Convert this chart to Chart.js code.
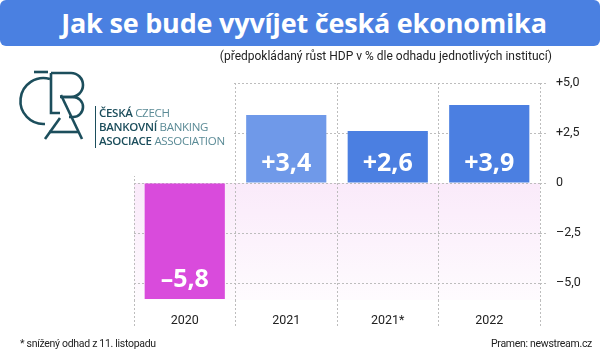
<!DOCTYPE html>
<html>
<head>
<meta charset="utf-8">
<script src="https://cdn.jsdelivr.net/npm/chart.js@4.4.0/dist/chart.umd.min.js"></script>
<style>
  body { margin:0; background:#fff; }
  #wrap { position:relative; width:600px; height:360px; overflow:hidden; font-family:Roboto, sans-serif; color:#222; }
  #chart { position:absolute; left:0; top:0; }
  .title { position:absolute; left:0; top:0; width:600px; height:46px; background:#4a80e1; border-radius:6px;
           color:#fff; font:bold 27px "Open Sans", sans-serif; line-height:45px; text-align:center; text-indent:8px; letter-spacing:-0.2px; }
  .sub { position:absolute; right:48px; top:49px; font-size:12px; }
  .foot { position:absolute; top:337px; font-size:10.5px; letter-spacing:-0.3px; }
  .logotext { position:absolute; left:95px; top:106px; border-left:1px solid #1c4e5c; padding-left:3px;
              font:11.5px "Open Sans", sans-serif; line-height:14px; color:#1c4e5c; letter-spacing:-0.3px; }
  .logotext b { font-weight:600; }
  .logotext span { color:#5b8b96; }
  #logo { position:absolute; left:0; top:60px; }
</style>
</head>
<body>
<div id="wrap">
  <canvas id="chart" width="600" height="360"></canvas>
  <div class="title">Jak se bude vyvíjet česká ekonomika</div>
  <div class="sub">(předpokládaný růst HDP v % dle odhadu jednotlivých institucí)</div>
  <svg id="logo" width="100" height="90" viewBox="0 60 100 90" fill="none" stroke="#1c4e5c" stroke-width="2.6">
    <path d="M34 72 H48"/>
    <path d="M50 79 A23 23 0 1 0 45 124"/>
    <path d="M51 73 V113 H60"/>
    <path d="M51 73 H71 A12 12 0 0 1 71 97 H60"/>
    <path d="M63 97 H73 A10 10 0 0 1 73 117 H69"/>
    <path d="M61 95 L82 139"/>
    <path d="M60 118 L45 139"/>
    <path d="M49 132 H78"/>
  </svg>
  <div class="logotext">
    <div><b>ČESKÁ</b> <span>CZECH</span></div>
    <div><b>BANKOVNÍ</b> <span>BANKING</span></div>
    <div><b>ASOCIACE</b> <span>ASSOCIATION</span></div>
  </div>
  <div class="foot" style="left:20px">* snížený odhad z 11. listopadu</div>
  <div class="foot" style="right:8px">Pramen: newstream.cz</div>
</div>
<script>
const years = ['2020', '2021', '2021*', '2022'];
const growth = [-5.8, 3.4, 2.6, 3.9];
const barColors = ['#d94bdc', '#6f99e9', '#4b7fe1', '#4b7fe1'];
const yTicks = [-5, -2.5, 0, 2.5, 5];
const yTickLabels = ['–5,0', '–2,5', '0', '+2,5', '+5,0'];

function fmt(v) {
  return (v > 0 ? '+' : '–') + Math.abs(v).toFixed(1).replace('.', ',');
}

const backdrop = {
  id: 'backdrop',
  beforeDraw(chart) {
    const {ctx, chartArea: a, scales: {y}} = chart;
    const z = y.getPixelForValue(0);
    const g = ctx.createLinearGradient(0, z, 0, a.bottom);
    g.addColorStop(0, '#faeafa');
    g.addColorStop(1, '#fefbfe');
    ctx.save();
    ctx.fillStyle = g;
    ctx.fillRect(a.left, z, a.right - a.left, a.bottom - z);
    ctx.restore();
  },
  beforeDatasetsDraw(chart) {
    // logo area hides the upper-left grid
    const {ctx} = chart;
    ctx.save();
    ctx.fillStyle = '#fff';
    ctx.fillRect(0, 60, 233, 116);
    ctx.restore();
  },
  afterDatasetsDraw(chart) {
    const {ctx} = chart;
    const meta = chart.getDatasetMeta(0);
    ctx.save();
    ctx.fillStyle = '#fff';
    ctx.font = 'bold 25px "Open Sans", sans-serif';
    ctx.textAlign = 'center';
    ctx.textBaseline = 'middle';
    meta.data.forEach((bar, i) => {
      const v = growth[i];
      const bottom = v > 0 ? bar.base : bar.y;
      ctx.fillText(fmt(v), bar.x, bottom - 19);
    });
    ctx.restore();
  }
};

new Chart(document.getElementById('chart'), {
  type: 'bar',
  data: {
    labels: years,
    datasets: [{
      data: growth,
      backgroundColor: barColors,
      barPercentage: 0.79,
      categoryPercentage: 1
    }]
  },
  options: {
    responsive: false,
    animation: false,
    layout: { padding: { top: 83, left: 134, right: 0, bottom: 0 } },
    plugins: { legend: { display: false }, tooltip: { enabled: false } },
    scales: {
      x: {
        afterFit(s) { s.height = 60; },
        grid: { color: '#bdbdbd', lineWidth: 1, tickLength: 26, offset: true, tickBorderDash: [2, 2] },
        border: { display: false, dash: [2, 2] },
        ticks: { padding: -13, color: '#222', font: { family: 'Roboto', size: 12.5 } }
      },
      y: {
        position: 'right',
        min: -5.85,
        max: 5,
        afterFit(s) { s.width = 60; },
        afterBuildTicks(s) { s.ticks = yTicks.map(v => ({ value: v })); },
        grid: { color: '#bdbdbd', lineWidth: 1, tickLength: 7, tickBorderDash: [2, 2] },
        border: { display: false, dash: [2, 2] },
        ticks: {
          padding: 9,
          color: '#222',
          font: { family: 'Roboto', size: 12.5 },
          callback(v) { return yTickLabels[yTicks.indexOf(v)]; }
        }
      }
    }
  },
  plugins: [backdrop]
});
</script>
</body>
</html>
